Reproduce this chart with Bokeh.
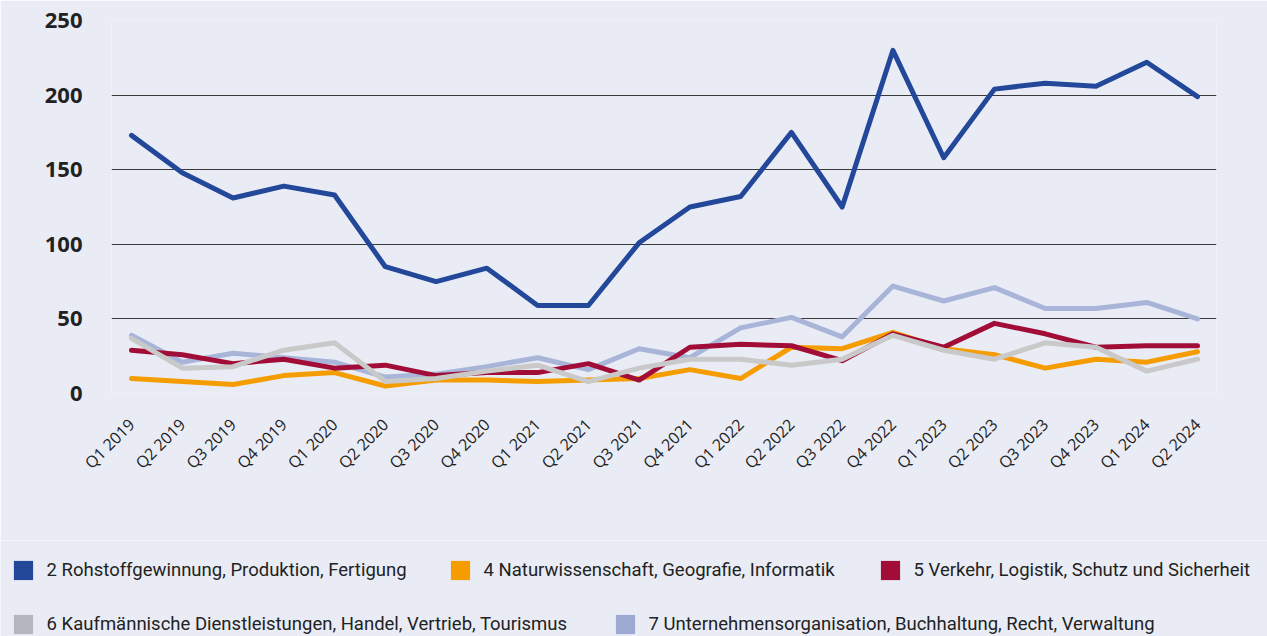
import math
from bokeh.plotting import figure
from bokeh.layouts import column
from bokeh.models import (ColumnDataSource, Range1d, FixedTicker, Legend, LegendItem)
from bokeh.embed import file_html
from bokeh.resources import INLINE

quarters = ["Q1 2019", "Q2 2019", "Q3 2019", "Q4 2019",
            "Q1 2020", "Q2 2020", "Q3 2020", "Q4 2020",
            "Q1 2021", "Q2 2021", "Q3 2021", "Q4 2021",
            "Q1 2022", "Q2 2022", "Q3 2022", "Q4 2022",
            "Q1 2023", "Q2 2023", "Q3 2023", "Q4 2023",
            "Q1 2024", "Q2 2024"]

s2_rohstoff = [173, 148, 131, 139, 133, 85, 75, 84, 59, 59, 101, 125,
               132, 175, 125, 230, 158, 204, 208, 206, 222, 199]
s4_natur = [10, 8, 6, 12, 14, 5, 9, 9, 8, 9, 10, 16,
            10, 31, 30, 41, 30, 26, 17, 23, 21, 28]
s5_verkehr = [29, 26, 20, 23, 17, 19, 12, 14, 14, 20, 9, 31,
              33, 32, 22, 40, 31, 47, 40, 31, 32, 32]
s6_kaufm = [37, 17, 18, 29, 34, 8, 10, 15, 19, 8, 17, 23,
            23, 19, 23, 39, 29, 23, 34, 31, 15, 23]
s7_unternehmen = [39, 21, 27, 24, 21, 11, 13, 18, 24, 16, 30, 24,
                  44, 51, 38, 72, 62, 71, 57, 57, 61, 50]

labels = ["2 Rohstoffgewinnung, Produktion, Fertigung",
          "4 Naturwissenschaft, Geografie, Informatik",
          "5 Verkehr, Logistik, Schutz und Sicherheit",
          "6 Kaufmännische Dienstleistungen, Handel, Vertrieb, Tourismus",
          "7 Unternehmensorganisation, Buchhaltung, Recht, Verwaltung"]
line_colors = ["#23489A", "#F59D00", "#A20D38", "#C9C9C9", "#A8B5D9"]
legend_colors = ["#23489A", "#F59D00", "#A20D38", "#B4B7BF", "#9CA9D2"]

BG = "#E9ECF5"

x = list(range(len(quarters)))
source = ColumnDataSource(dict(x=x, s2=s2_rohstoff, s4=s4_natur, s5=s5_verkehr,
                               s6=s6_kaufm, s7=s7_unternehmen))

p = figure(width=1267, height=540, output_backend="svg", toolbar_location=None,
           x_range=Range1d(-0.394, 21.374), y_range=Range1d(0, 250),
           min_border_left=111, min_border_right=51, min_border_top=20,
           min_border_bottom=147, background_fill_color=BG, border_fill_color=BG,
           outline_line_color=None)

keys = ["s2", "s4", "s5", "s6", "s7"]
order = [4, 1, 2, 3, 0]
for i in order:
    p.line("x", keys[i], source=source, line_color=line_colors[i], line_width=5,
           line_join="round", line_cap="round")

p.xgrid.grid_line_color = None
p.ygrid.grid_line_color = "#3a3a3a"
p.ygrid.grid_line_width = 1
p.yaxis.ticker = FixedTicker(ticks=[0, 50, 100, 150, 200, 250])
p.yaxis.axis_line_color = None
p.yaxis.major_tick_line_color = None
p.yaxis.minor_tick_line_color = None
p.yaxis.major_tick_out = 0
p.yaxis.major_label_standoff = 29
p.yaxis.major_label_text_font = "Open Sans"
p.yaxis.major_label_text_font_size = "22px"
p.yaxis.major_label_text_font_style = "bold"
p.yaxis.major_label_text_color = "#222222"

p.xaxis.ticker = FixedTicker(ticks=x)
p.xaxis.major_label_overrides = {i: q for i, q in enumerate(quarters)}
p.xaxis.major_label_orientation = math.pi / 4
p.xaxis.axis_line_color = None
p.xaxis.major_tick_line_color = None
p.xaxis.minor_tick_line_color = None
p.xaxis.major_tick_out = 0
p.xaxis.major_label_standoff = 28
p.xaxis.major_label_text_font = "Open Sans"
p.xaxis.major_label_text_font_size = "16px"
p.xaxis.major_label_text_color = "#222222"

# legend strip (a separate, axis-less figure whose frame spans the full width)
lf = figure(width=1267, height=96, output_backend="svg", toolbar_location=None,
            x_range=Range1d(0, 1), y_range=Range1d(0, 1),
            x_axis_type=None, y_axis_type=None, min_border=0,
            background_fill_color=BG, border_fill_color=BG, outline_line_color=None)
lf.xgrid.grid_line_color = None
lf.ygrid.grid_line_color = None
for fig in (p, lf):
    try:
        fig.frame_align = False
    except Exception:
        pass

# legend swatch renderers (placed outside the visible range, only their legend glyphs show)
proxies = []
for i in range(5):
    r = lf.quad(left=[2], right=[3], top=[3], bottom=[2], fill_color=legend_colors[i],
                line_color=None)
    proxies.append(r)

# square left edges 13, 450, 880 (row 1) and 13, 615 (row 2)
positions = [(10.6, 54), (447.6, 54), (877.6, 54), (10.6, 0), (612.6, 0)]
for i in range(5):
    lg = Legend(items=[LegendItem(label=labels[i], renderers=[proxies[i]])],
                location=positions[i], orientation="horizontal", margin=0, padding=0,
                spacing=0, glyph_width=24, glyph_height=24, label_standoff=12,
                label_height=24, label_text_font="Roboto", label_text_font_size="18.5px",
                label_text_color="#222222", border_line_color=None,
                background_fill_alpha=0, label_text_baseline="middle")
    lf.add_layout(lg, "center")

layout = column(p, lf, spacing=0)

html = file_html(layout, INLINE)
html = html.replace("<body>", '<body style="background-color:%s;">' % BG, 1)
open("out.html", "w").write(html)
